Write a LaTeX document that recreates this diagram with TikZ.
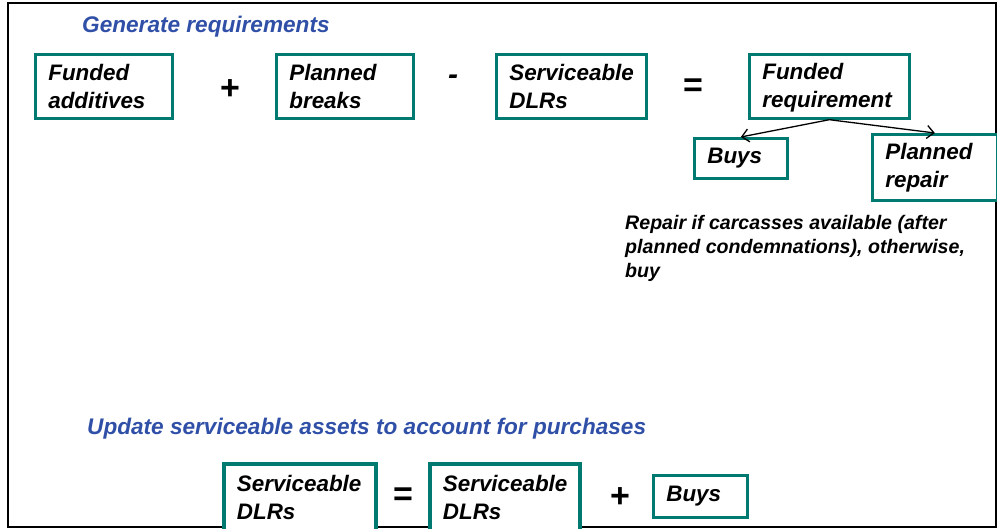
\documentclass[tikz,border=0pt]{standalone}
\usepackage{fontspec}
\setmainfont{Liberation Sans}
\usetikzlibrary{arrows.meta}
\definecolor{boxteal}{RGB}{0,122,112}
\definecolor{headblue}{RGB}{48,80,168}

\begin{document}
\begin{tikzpicture}[x=1pt,y=-1pt,
  termbox/.style={draw=boxteal, line width=2.7pt, fill=white, align=left,
    inner xsep=13pt, inner ysep=0pt, anchor=north west,
    font=\bfseries\itshape\fontsize{22.4}{28}\selectfont},
  heading/.style={anchor=west, inner sep=0pt, text=headblue,
    font=\bfseries\itshape\fontsize{22.6}{26}\selectfont},
  opsign/.style={inner sep=0pt, font=\bfseries\fontsize{34}{34}\selectfont},
  note/.style={anchor=north west, inner sep=0pt, align=left,
    font=\bfseries\itshape\fontsize{19.6}{24}\selectfont},
  split/.style={draw=black, line width=1.3pt, -{Straight Barb[length=7pt,width=13pt]}}
]
\useasboundingbox (0,0) rectangle (997,529);
\clip (0,0) rectangle (997,529);

% outer frame
\draw[line width=2.5pt] (8,3) rectangle (996,527);

% ---- generating the requirement ----
\node[heading] (genhead) at (82,27) {Generate requirements};

\node[termbox, text width=111pt, minimum height=64pt] (fadd) at (34,53) {Funded\\additives};
\node[opsign] (plus1) at (230,90) {+};
\node[termbox, text width=111pt, minimum height=64pt] (pbrk) at (275,53) {Planned\\breaks};
\node[opsign, font=\bfseries\itshape\fontsize{30}{30}\selectfont] (minus1) at (453,80) {-};
\node[termbox, text width=124pt, minimum height=64pt] (sdlr) at (495,53) {Serviceable\\DLRs};
\node[opsign] (eq1) at (693,88) {=};
\node[termbox, text width=134pt, minimum height=64pt] (freq) at (748,53) {\rule{0pt}{18pt}Funded\\requirement};

\node[termbox, text width=67pt, minimum height=40pt] (buys1) at (693,137) {Buys};
\node[termbox, text width=99pt, minimum height=66pt] (prep) at (871,133) {Planned\\repair};

\draw[split] (freq.south) -- (buys1.north);
\draw[split] (freq.south) -- (prep.north);

\node[note] (rule) at (625,215) {Repair if carcasses available (after\\planned condemnations), otherwise,\\buy};

% ---- updating serviceable assets ----
\node[heading] (updhead) at (87,429) {Update serviceable assets to account for purchases};

\node[termbox, line width=3.8pt, text width=126pt, minimum height=68pt] (sdlr2) at (222,462) {Serviceable\\DLRs};
\node[opsign] (eq2) at (403,497) {=};
\node[termbox, line width=3.8pt, text width=124pt, minimum height=68pt] (sdlr3) at (428,462) {Serviceable\\DLRs};
\node[opsign] (plus2) at (620,498) {+};
\node[termbox, text width=68pt, minimum height=42pt] (buys2) at (652,474) {Buys};
\end{tikzpicture}
\end{document}
